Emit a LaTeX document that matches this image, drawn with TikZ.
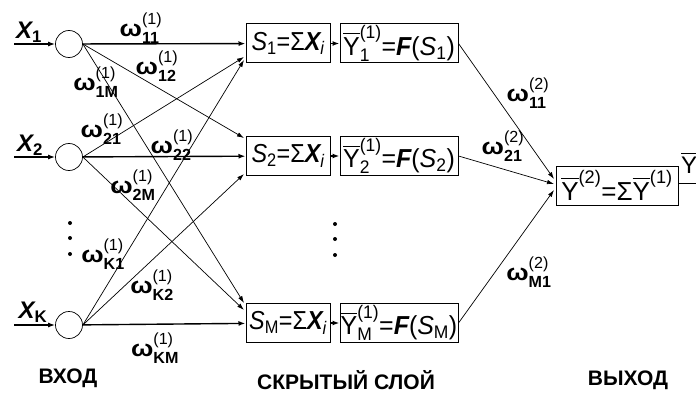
\documentclass[tikz,border=0pt]{standalone}
\usepackage{amsmath}
\usepackage{fontspec}
\setmainfont{Liberation Sans}
\usetikzlibrary{arrows.meta}
\newcommand\wgt[3]{$\text{\bfseries\scalebox{1.15}[1]{ω}}^{\text{(#3)}}_{\text{\bfseries #2}}$}
\newcommand\Stxt[1]{\scalebox{0.9}[1]{$\text{\itshape S}_{\text{#1}}\text{=Σ}\text{\itshape\bfseries X}_{\text{\itshape i}}$}}
\newcommand\Ytxt[1]{\scalebox{0.96}[1]{$\overline{\text{Y}}^{\text{(1)}}_{\text{#1}}\text{=}\text{\itshape\bfseries F}\text{(}\text{\itshape S}_{\text{#1}}\text{)}$}}
\begin{document}
\begin{tikzpicture}[x=1pt,y=-1pt,
  neuron/.style={draw,circle,line width=0.7pt,minimum size=27pt,inner sep=0pt},
  sumbox/.style={draw,line width=1pt,minimum width=84pt,minimum height=39pt,inner sep=0pt,font=\fontsize{26}{28}\selectfont},
  actbox/.style={draw,line width=1pt,minimum width=118pt,minimum height=39pt,inner sep=0pt,font=\fontsize{26}{28}\selectfont},
  outbox/.style={draw,line width=1pt,minimum width=122pt,minimum height=39pt,inner sep=0pt,font=\fontsize{26}{28}\selectfont},
  main/.style={line width=1.4pt,-{Latex[length=7pt,width=5pt]}},
  diag/.style={line width=0.7pt,-{Latex[length=7pt,width=4.5pt]}},
  wlab/.style={inner sep=0pt,font=\fontsize{23}{25}\selectfont},
  xlab/.style={inner sep=0pt,font=\fontsize{24}{26}\selectfont\bfseries\itshape},
  caption/.style={inner sep=0pt,font=\fontsize{21}{24}\selectfont\bfseries},
  dotm/.style={fill,circle,inner sep=0pt,minimum size=4pt}
]
\useasboundingbox (0,0) rectangle (696,396);
\clip (0,0) rectangle (696,396);

% input neurons
\node[neuron] (c1) at (69,44) {};
\node[neuron] (c2) at (69,157) {};
\node[neuron] (cK) at (69,325) {};
\coordinate (i1) at (14,44);
\coordinate (i2) at (14,157);
\coordinate (iK) at (14,325);
\draw[main] (i1) -- (c1);
\draw[main] (i2) -- (c2);
\draw[main] (iK) -- (cK);
\node[xlab] (x1) at (29,32) {X\textsubscript{\upshape 1}};
\node[xlab] (x2) at (30,145) {X\textsubscript{\upshape 2}};
\node[xlab] (xK) at (33,312) {X\textsubscript{\upshape K}};

% hidden boxes
\node[sumbox] (s1) at (288,43.5) {\Stxt{1}};
\node[sumbox] (s2) at (288,156) {\Stxt{2}};
\node[sumbox] (sM) at (288,323) {\Stxt{M}};
\node[actbox] (y1) at (399,43.5) {\Ytxt{1}};
\node[actbox] (y2) at (399,156) {\Ytxt{2}};
\node[actbox] (yM) at (399,323) {\Ytxt{M}};
\draw[main] (s1) -- (y1);
\draw[main] (s2) -- (y2);
\draw[main] (sM) -- (yM);

% output box
\node[outbox] (out) at (617,185.5) {$\overline{\text{Y}}^{\text{(2)}}\text{=Σ}\overline{\text{Y}}^{\text{(1)}}$};
\coordinate (oend) at (700,183);
\draw[line width=1pt] (out.east |- oend) -- (oend);
\node[inner sep=0pt,font=\fontsize{24}{26}\selectfont] (ylab) at (689,163) {$\overline{\text{Y}}$};

% connections input -> hidden
\coordinate (e12) at (244,138);
\coordinate (e1M) at (244,303);
\coordinate (e21) at (244,57);
\coordinate (e2M) at (244,310);
\coordinate (eK1) at (244,60);
\coordinate (eK2) at (244,174);
\draw[main] (c1) -- (s1);
\draw[diag] (c1.east) -- (e12);
\draw[diag] (c1.east) -- (e1M);
\draw[diag] (c2.east) -- (e21);
\draw[main] (c2) -- (s2);
\draw[diag] (c2.east) -- (e2M);
\draw[diag] (cK.east) -- (eK1);
\draw[diag] (cK.east) -- (eK2);
\draw[main] (cK) -- (sM);

% connections hidden -> output
\coordinate (o1) at (554,179);
\coordinate (o2) at (554,184);
\coordinate (oM) at (554,190);
\draw[diag] (y1.east) -- (o1);
\draw[diag] (y2.east) -- (o2);
\draw[diag] (yM.east) -- (oM);

% weight labels
\node[wlab] (w11) at (141,28) {\wgt{}{11}{1}};
\node[wlab] (w12) at (157,66) {\wgt{}{12}{1}};
\node[wlab] (w1M) at (96,82) {\wgt{}{1M}{1}};
\node[wlab] (w21) at (102,129) {\wgt{}{21}{1}};
\node[wlab] (w22) at (172,145) {\wgt{}{22}{1}};
\node[wlab] (w2M) at (133,185) {\wgt{}{2M}{1}};
\node[wlab] (wK1) at (103,254) {\wgt{}{K1}{1}};
\node[wlab] (wK2) at (152,285) {\wgt{}{K2}{1}};
\node[wlab] (wKM) at (155,348) {\wgt{}{KM}{1}};
\node[wlab] (v11) at (528,93) {\wgt{}{11}{2}};
\node[wlab] (v21) at (503,146) {\wgt{}{21}{2}};
\node[wlab] (vM1) at (529,272) {\wgt{}{M1}{2}};

% dots
\node[dotm] (d1) at (70,223) {};
\node[dotm] (d2) at (70,238) {};
\node[dotm] (d3) at (70,254) {};
\node[dotm] (h1) at (335,224) {};
\node[dotm] (h2) at (335,239) {};
\node[dotm] (h3) at (335,255) {};

% captions
\node[caption] (cin) at (68,378) {ВХОД};
\node[caption] (chid) at (346,380) {СКРЫТЫЙ СЛОЙ};
\node[caption] (cout) at (628,380) {ВЫХОД};
\end{tikzpicture}
\end{document}
